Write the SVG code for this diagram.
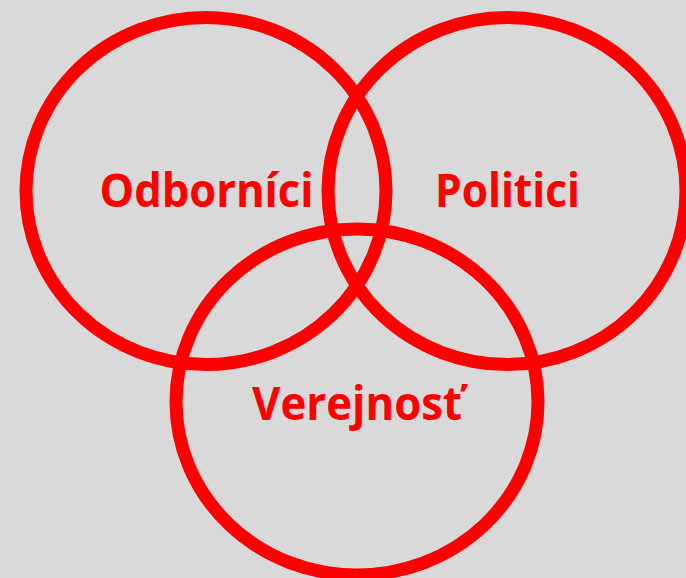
<svg xmlns="http://www.w3.org/2000/svg" width="686" height="578" viewBox="0 0 686 578">
<style>
.c{fill:none;stroke:#ff0000;stroke-width:13}
.t{font-family:"Open Sans","Noto Sans","DejaVu Sans",sans-serif;font-weight:bold;font-size:46px;fill:#ff0000;text-anchor:middle}
</style>
<rect width="686" height="578" fill="#d9d9d9"/>
<g id="odbornici">
<ellipse class="c" cx="206" cy="191" rx="180" ry="173.5"/>
<text class="t" x="206.5" y="207" textLength="214" lengthAdjust="spacingAndGlyphs">Odborníci</text>
</g>
<g id="politici">
<ellipse class="c" cx="507" cy="191" rx="179" ry="173.5"/>
<text class="t" x="507.5" y="207" textLength="145" lengthAdjust="spacingAndGlyphs">Politici</text>
</g>
<g id="verejnost">
<ellipse class="c" cx="357" cy="402" rx="181" ry="173"/>
<text class="t" x="357" y="420" textLength="210" lengthAdjust="spacingAndGlyphs">Verejnosť</text>
</g>
<g id="connectors"/>
</svg>
